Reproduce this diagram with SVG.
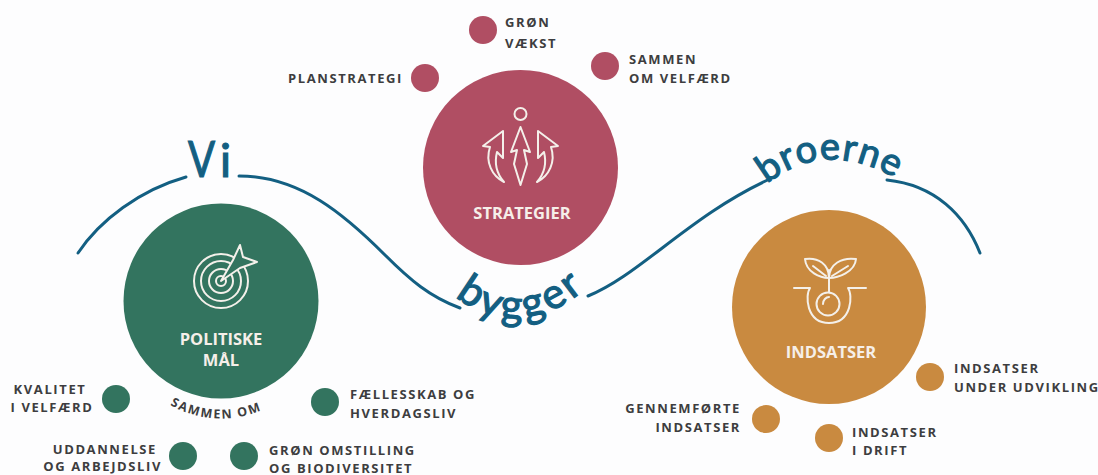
<svg xmlns="http://www.w3.org/2000/svg" xmlns:xlink="http://www.w3.org/1999/xlink" width="1098" height="475" viewBox="0 0 1098 475">
<style>
.lb{font-family:"Open Sans","Liberation Sans",sans-serif;font-weight:700;font-size:13px;letter-spacing:1.6px;fill:#3d3d40}
.ti{font-family:"Open Sans","Liberation Sans",sans-serif;font-weight:700;font-size:16.5px;fill:#f6efe9;text-anchor:middle}
.hw{font-family:"Lato","Noto Sans",sans-serif;font-weight:400;fill:#135f82;stroke:#135f82;stroke-width:1.2}
.wave{fill:none;stroke:#135f82;stroke-width:3;stroke-linecap:round}
.ic{fill:none;stroke:#f4f0ea;stroke-width:2;stroke-linejoin:round;stroke-linecap:round}
.g{fill:#33745f}.r{fill:#b04e63}.o{fill:#c98a40}
</style>
<defs>
<path id="pBygger" d="M455,296 Q520,350 596,280"/>
<path id="pBroerne" d="M767,184 Q828,135 905,184"/>
<path id="pSammen" d="M170,405 Q222,433 277,403"/>
</defs>
<rect width="1098" height="475" fill="#fdfdfe"/>
<g id="connectors">
<path class="wave" d="M78,253 C100,220 140,190 186,177"/>
<path class="wave" d="M239,176 C300,176 345,215 385,255 C410,280 430,297 460,308"/>
<path class="wave" d="M588,296 C640,275 690,215 772,178"/>
<path class="wave" d="M887,180 C935,185 965,215 980,253"/>
</g>
<g id="wave-text">
<text class="hw" font-size="50" transform="translate(188,177) scale(.8,1)">V</text>
<text class="hw" font-size="46" transform="translate(220,177)">i</text>
<text class="hw" font-size="42" letter-spacing="3.5"><textPath href="#pBygger" xlink:href="#pBygger">bygger</textPath></text>
<text class="hw" font-size="38" letter-spacing="1"><textPath href="#pBroerne" xlink:href="#pBroerne">broerne</textPath></text>
</g>
<g id="politiske-maal">
<circle class="g" cx="221" cy="301" r="97.5"/>
<g class="ic">
<circle cx="221" cy="281" r="27"/>
<circle cx="221" cy="281" r="20"/>
<circle cx="221" cy="281" r="12"/>
<circle cx="221" cy="281" r="5"/>
<path class="g" d="M221,281 L233,260 L240,245 L243,257 L257,262 L240,268 Z"/>
</g>
<text class="ti" x="221" y="345">POLITISKE</text>
<text class="ti" x="221" y="366">MÅL</text>
<text class="lb" style="font-size:12.5px"><textPath href="#pSammen" xlink:href="#pSammen">SAMMEN OM</textPath></text>
</g>
<g id="strategier">
<circle class="r" cx="520.5" cy="167.5" r="97.5"/>
<g class="ic">
<circle cx="520.5" cy="114" r="6"/>
<path d="M520.5,127 L530,152 L524,150 L527,164 L520.5,185 L514,164 L517,150 L511,152 Z"/>
<path d="M503,131 L483,146 L490,147 C485,162 492,176 504,182 C497,174 494,164 497,152 L503,158 Z"/>
<path d="M538,131 L558,146 L551,147 C556,162 549,176 537,182 C544,174 547,164 544,152 L538,158 Z"/>
</g>
<text class="ti" x="522" y="219">STRATEGIER</text>
</g>
<g id="indsatser">
<circle class="o" cx="829" cy="307" r="97"/>
<g class="ic">
<path d="M829,278 C820,278 806,272 805,259 C818,257 829,264 829,278 Z"/>
<path d="M829,278 C838,278 855,272 856,259 C842,257 829,264 829,278 Z"/>
<path d="M813,266 L826,276 M848,266 L832,276"/>
<path d="M829,270 L829,292"/>
<path d="M794,288 H810 C805,295 806,323 829,323 C852,323 853,295 848,288 H866"/>
<circle cx="828" cy="304" r="11.5"/>
<path d="M823,304 C823,300 826,297 829,297"/>
</g>
<text class="ti" x="831" y="358">INDSATSER</text>
</g>
<g id="grøn-vækst"><circle class="r" cx="483" cy="30" r="14"/><text class="lb" x="505" y="27">GRØN</text><text class="lb" x="505" y="48">VÆKST</text></g>
<g id="sammen-om-velfaerd"><circle class="r" cx="605" cy="66" r="14"/><text class="lb" x="629" y="64">SAMMEN</text><text class="lb" x="629" y="83">OM VELFÆRD</text></g>
<g id="planstrategi"><circle class="r" cx="425" cy="78" r="14"/><text class="lb" x="403" y="83" text-anchor="end">PLANSTRATEGI</text></g>
<g id="kvalitet"><circle class="g" cx="116" cy="399" r="14"/><text class="lb" x="50" y="394" text-anchor="middle">KVALITET</text><text class="lb" x="52" y="412" text-anchor="middle">I VELFÆRD</text></g>
<g id="faellesskab"><circle class="g" cx="325" cy="402" r="14"/><text class="lb" x="350" y="399">FÆLLESSKAB OG</text><text class="lb" x="350" y="418">HVERDAGSLIV</text></g>
<g id="uddannelse"><circle class="g" cx="183" cy="456" r="14"/><text class="lb" x="157" y="454" text-anchor="end">UDDANNELSE</text><text class="lb" x="162" y="471" text-anchor="end">OG ARBEJDSLIV</text></g>
<g id="groen-omstilling"><circle class="g" cx="244" cy="456" r="14"/><text class="lb" x="269" y="455">GRØN OMSTILLING</text><text class="lb" x="269" y="473">OG BIODIVERSITET</text></g>
<g id="indsatser-under"><circle class="o" cx="930" cy="377" r="14"/><text class="lb" x="954" y="373">INDSATSER</text><text class="lb" x="954" y="392">UNDER UDVIKLING</text></g>
<g id="gennemfoerte"><circle class="o" cx="766" cy="419" r="14"/><text class="lb" x="741" y="413" text-anchor="end">GENNEMFØRTE</text><text class="lb" x="741" y="432" text-anchor="end">INDSATSER</text></g>
<g id="i-drift"><circle class="o" cx="829" cy="438" r="14"/><text class="lb" x="852" y="437">INDSATSER</text><text class="lb" x="852" y="455">I DRIFT</text></g>
</svg>
